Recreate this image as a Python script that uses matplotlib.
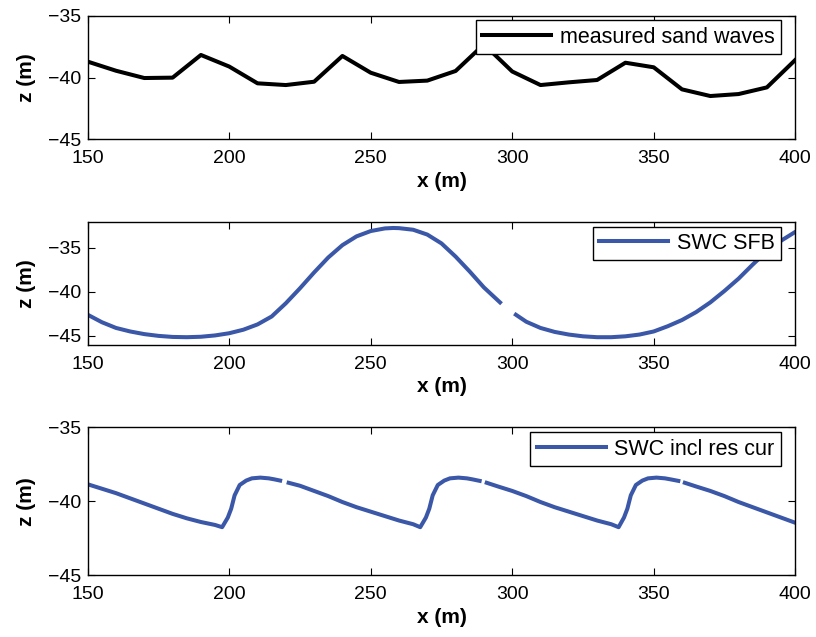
import matplotlib
matplotlib.use("Agg")
import matplotlib.pyplot as plt
import numpy as np

plt.rcParams['font.family'] = ['Liberation Sans', 'DejaVu Sans']

# measured sand waves (every 10 m)
x_meas = [150, 160, 170, 180, 190, 200, 210, 220, 230, 240, 250, 260, 270,
          280, 290, 300, 310, 320, 330, 340, 350, 360, 370, 380, 390, 400]
z_meas = [-38.7, -39.44, -40.03, -40.0, -38.16, -39.1, -40.46, -40.6, -40.33,
          -38.24, -39.6, -40.35, -40.24, -39.46, -37.3, -39.5, -40.6, -40.38,
          -40.19, -38.79, -39.16, -40.95, -41.49, -41.33, -40.79, -38.57]

# SWC SFB (nan = break in the line)
x_sfb = [150, 155, 160, 165, 170, 175, 180, 185, 190, 195, 200, 205, 210, 215,
         220, 225, 230, 235, 240, 245, 250, 255, 258, 260, 265, 270, 275, 280,
         285, 290, 295.7, 298, 301.3, 305, 310, 315, 320, 325, 330, 335, 340,
         345, 350, 355, 360, 365, 370, 375, 380, 385, 390, 395, 400]
z_sfb = [-42.6, -43.45, -44.1, -44.5, -44.8, -45.0, -45.12, -45.15, -45.1,
         -44.95, -44.7, -44.3, -43.7, -42.8, -41.3, -39.6, -37.8, -36.1, -34.7,
         -33.7, -33.1, -32.8, -32.75, -32.77, -32.95, -33.5, -34.5, -36.0,
         -37.7, -39.5, -41.2, np.nan, -42.6, -43.4, -44.1, -44.55, -44.85,
         -45.05, -45.15, -45.15, -45.05, -44.85, -44.5, -43.9, -43.2, -42.3,
         -41.2, -39.9, -38.5, -36.9, -35.4, -34.2, -33.2]

# SWC incl res cur (nan = break in the line)
x_res = [150, 155, 160, 165, 170, 175, 180, 185, 190, 195, 197.5, 199.5, 200.7,
         201.9, 203.7, 206, 208, 211, 214, 216, 218, 219.5, 221, 225, 230, 235,
         240, 245, 250, 255, 260, 265, 267.5, 269.5, 270.7, 271.9, 273.7, 276,
         278, 281, 284, 286, 288.5, 290, 291, 295, 300, 305, 310, 315, 320,
         325, 330, 335, 337.6, 339.5, 340.7, 341.9, 343.7, 346, 348, 351, 354,
         356, 358.7, 360, 361, 365, 370, 375, 380, 385, 390, 395, 400]
z_res = [-38.85, -39.15, -39.45, -39.8, -40.15, -40.5, -40.85, -41.15, -41.4,
         -41.6, -41.75, -41.1, -40.5, -39.6, -38.9, -38.6, -38.45, -38.4,
         -38.45, -38.52, -38.6, np.nan, -38.75, -38.95, -39.3, -39.65, -40.05,
         -40.4, -40.7, -41.0, -41.3, -41.55, -41.75, -41.1, -40.5, -39.6,
         -38.9, -38.6, -38.45, -38.4, -38.45, -38.52, -38.62, np.nan, -38.75,
         -39.0, -39.3, -39.65, -40.05, -40.4, -40.7, -41.0, -41.3, -41.55,
         -41.75, -41.1, -40.5, -39.6, -38.9, -38.6, -38.45, -38.4, -38.45,
         -38.52, -38.62, np.nan, -38.75, -39.0, -39.3, -39.65, -40.05, -40.4,
         -40.75, -41.1, -41.45]

blue = '#3b57a7'

fig = plt.figure(figsize=(8.16, 6.37), dpi=100)
ax1 = fig.add_axes([0.1075, 0.7813, 0.867, 0.1936])
ax2 = fig.add_axes([0.1075, 0.4589, 0.867, 0.1922])
ax3 = fig.add_axes([0.1075, 0.0969, 0.867, 0.2323])

ax1.plot(x_meas, z_meas, color='k', lw=2.9, label='measured sand waves')
ax2.plot(x_sfb, z_sfb, color=blue, lw=2.9, label='SWC SFB')
ax3.plot(x_res, z_res, color=blue, lw=2.9, label='SWC incl res cur')

ax1.set_ylim(-45, -35)
ax2.set_ylim(-46, -32.1)
ax3.set_ylim(-45, -35)

for ax in (ax1, ax2, ax3):
    ax.set_xlim(150, 400)
    ax.set_xticks([150, 200, 250, 300, 350, 400])
    ax.set_yticks([-45, -40, -35])
    ax.tick_params(direction='in', top=True, right=True, length=5,
                   width=0.8, labelsize=14)
    ax.tick_params(axis='x', pad=8)
    ax.tick_params(axis='y', pad=5)
    for s in ax.spines.values():
        s.set_linewidth(1.0)
    ax.set_xlabel('x (m)', fontsize=15, fontweight='bold', labelpad=3)
    ax.set_ylabel('z (m)', fontsize=15, fontweight='bold', labelpad=8)
    leg = ax.legend(loc='upper right', bbox_to_anchor=(0.98, 0.965),
                    borderaxespad=0, fontsize=15.5, handlelength=3.2,
                    fancybox=False, framealpha=1, edgecolor='k',
                    borderpad=0.3, handletextpad=0.4)
    leg.get_frame().set_linewidth(1.0)

plt.savefig('out.png')
